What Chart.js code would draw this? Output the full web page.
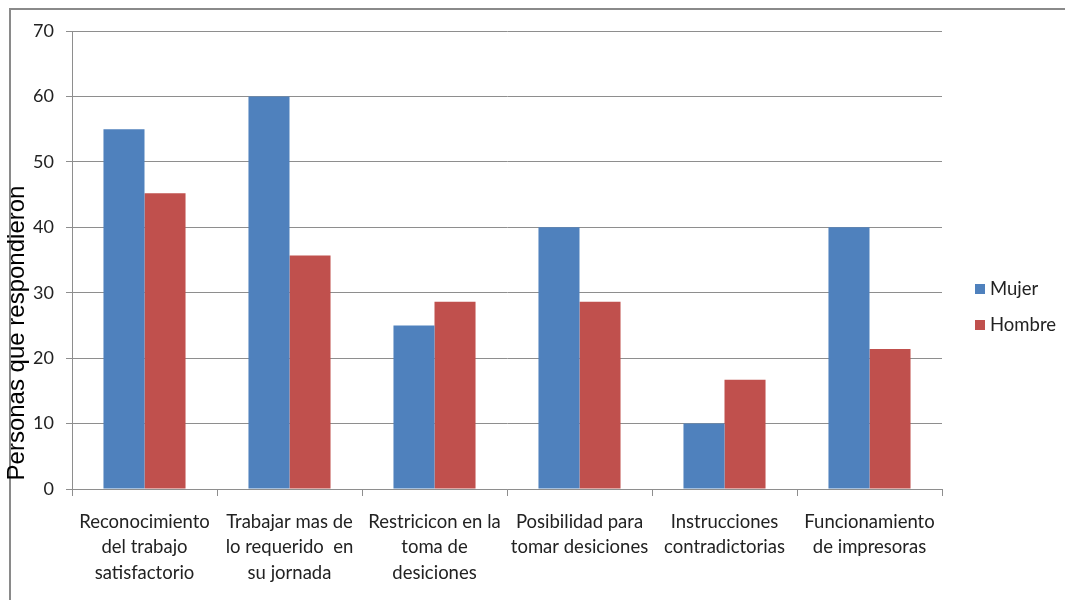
<!DOCTYPE html>
<html>
<head>
<meta charset="utf-8">
<script src="https://cdn.jsdelivr.net/npm/chart.js@4/dist/chart.umd.min.js"></script>
<style>
  html, body { margin: 0; padding: 0; background: #fff; }
  #wrap { width: 1065px; height: 600px; position: relative; }
</style>
</head>
<body>
<div id="wrap"><canvas id="c" width="1065" height="600"></canvas></div>
<script>
// Survey answers per factor, split by gender
const categories = [
  ["Reconocimiento", "del trabajo", "satisfactorio"],
  ["Trabajar mas de", "lo requerido  en", "su jornada"],
  ["Restricicon en la", "toma de", "desiciones"],
  ["Posibilidad para", "tomar desiciones"],
  ["Instrucciones", "contradictorias"],
  ["Funcionamiento", "de impresoras"]
];
const seriesNames = ["Mujer", "Hombre"];
const mujer = [55, 60, 25, 40, 10, 40];
const hombre = [45.2, 35.7, 28.6, 28.6, 16.7, 21.4];
const yTicks = [0, 10, 20, 30, 40, 50, 60, 70];
const yTitle = "Personas que respondieron";

const colors = ["#4f81bd", "#c0504d"];
const gridColor = "#8e8e8e";
const fontFamily = "Lato, 'Open Sans', sans-serif";

// Frame around the figure plus the rotated y title
const framePlugin = {
  id: "frame",
  beforeDraw(chart) {
    const ctx = chart.ctx;
    ctx.save();
    ctx.fillStyle = "#fff";
    ctx.fillRect(0, 0, chart.width, chart.height);
    ctx.strokeStyle = "#8a8a8a";
    ctx.lineWidth = 2;
    ctx.beginPath();
    ctx.moveTo(chart.width, 9);
    ctx.lineTo(10, 9);
    ctx.lineTo(10, chart.height);
    ctx.stroke();
    ctx.restore();
  },
  afterDraw(chart) {
    const ctx = chart.ctx;
    ctx.save();
    ctx.translate(24, 333);
    ctx.rotate(-Math.PI / 2);
    ctx.font = "24px 'Liberation Sans', Arial, sans-serif";
    ctx.fillStyle = "#000";
    ctx.textAlign = "center";
    ctx.textBaseline = "alphabetic";
    ctx.fillText(yTitle, 0, 0);
    ctx.restore();
  }
};

// Legend on the right, stacked vertically
const sideLegend = {
  id: "sideLegend",
  afterDraw(chart) {
    const ctx = chart.ctx;
    ctx.save();
    ctx.font = "18.5px " + fontFamily;
    ctx.textBaseline = "middle";
    ctx.textAlign = "left";
    chart.data.datasets.forEach((ds, i) => {
      const cy = 289 + i * 36;
      ctx.fillStyle = ds.backgroundColor;
      ctx.fillRect(975, cy - 5, 10, 10);
      ctx.fillStyle = "#222";
      ctx.fillText(ds.label, 990, cy);
    });
    ctx.restore();
  }
};

new Chart(document.getElementById("c"), {
  type: "bar",
  data: {
    labels: categories,
    datasets: [
      { label: seriesNames[0], data: mujer, backgroundColor: colors[0] },
      { label: seriesNames[1], data: hombre, backgroundColor: colors[1] }
    ]
  },
  options: {
    responsive: false,
    animation: false,
    devicePixelRatio: 1,
    layout: { padding: { left: 0, right: 123, top: 31, bottom: 0 } },
    datasets: { bar: { categoryPercentage: 0.566, barPercentage: 1.0, borderWidth: 0 } },
    plugins: {
      legend: { display: false },
      tooltip: { enabled: false }
    },
    scales: {
      x: {
        offset: true,
        grid: {
          display: true,
          drawOnChartArea: false,
          drawTicks: true,
          tickLength: 7,
          offset: true,
          color: gridColor
        },
        border: { display: true, color: gridColor },
        ticks: {
          color: "#222",
          font: { family: fontFamily, size: 18.5, lineHeight: 1.38 },
          padding: 13,
          maxRotation: 0,
          autoSkip: false
        },
        afterFit(scale) { scale.height = 111; }
      },
      y: {
        min: 0,
        max: 70,
        afterBuildTicks(scale) { scale.ticks = yTicks.map(v => ({ value: v })); },
        grid: {
          color: gridColor,
          tickLength: 6,
          drawTicks: true
        },
        border: { display: true, color: gridColor },
        ticks: {
          color: "#222",
          font: { family: fontFamily, size: 18 },
          padding: 12
        },
        afterFit(scale) { scale.width = 72; }
      }
    }
  },
  plugins: [framePlugin, sideLegend]
});
</script>
</body>
</html>
